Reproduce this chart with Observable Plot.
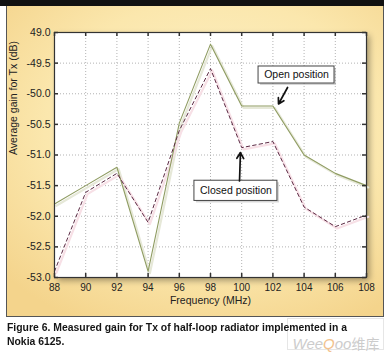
<!DOCTYPE html>
<html><head><meta charset="utf-8">
<script src="https://cdn.jsdelivr.net/npm/d3@7"></script>
<script src="https://cdn.jsdelivr.net/npm/@observablehq/plot@0.6"></script>
<style>
body{margin:0;background:#fff;font-family:"Liberation Sans",Arial,sans-serif;}
#wrap{position:relative;width:391px;height:355px;overflow:hidden;}
#bar{position:absolute;left:0;top:0;width:384px;height:6px;background:#111;}
#panel{position:absolute;left:6px;top:6px;width:376px;height:310px;border:1px solid #555;border-top:none;
 background:radial-gradient(ellipse 75% 70% at 55% 40%, #fdf2cc 0%, #fbe7ad 60%, #f4d48c 100%);}
#chart{position:absolute;left:0;top:0;}
#caption{position:absolute;left:7px;top:321px;font-weight:bold;font-size:11px;line-height:13.5px;color:#151515;white-space:nowrap;transform-origin:0 0;}
#wmbox{position:absolute;left:287px;top:318px;width:97px;height:32px;border:1px solid #e6e6e6;box-sizing:border-box;}
#wm{position:absolute;left:290px;top:337px;width:92px;font-size:15px;color:#cccccc;font-style:italic;line-height:13px;text-align:center;white-space:nowrap;}
#wm .o{color:#f2c28e;}
#wm .cn{font-style:normal;font-family:"Noto Sans CJK SC",sans-serif;font-size:14px;}
</style></head>
<body>
<div id="wrap">
  <div id="bar"></div>
  <div id="panel"></div>
  <div id="chart"></div>
  <div id="wmbox"></div>
  <div id="wm">Wee<span class="o">Q</span>oo<span class="cn">维库</span></div>
  <div id="caption"><span id="l1">Figure 6. Measured gain for Tx of half-loop radiator implemented in a</span><br>Nokia 6125.</div>
</div>
<script>
// ---- data ----
const freq = [88, 90, 92, 94, 96, 98, 100, 102, 104, 106, 108];
const openPos = [-51.8, -51.5, -51.2, -52.9, -50.48, -49.19, -50.2, -50.2, -51.0, -51.3, -51.5];
const closedPos = [-52.9, -51.61, -51.3, -52.1, -50.6, -49.59, -50.88, -50.78, -51.85, -52.17, -51.98];
const xTicks = [88, 90, 92, 94, 96, 98, 100, 102, 104, 106, 108];
const yTicks = [-53, -52.5, -52, -51.5, -51, -50.5, -50, -49.5, -49];
const yTickLabels = ["-53.0", "-52.5", "-52.0", "-51.5", "-51.0", "-50.5", "-50.0", "-49.5", "49.0"];
const xLabel = "Frequency (MHz)";
const yLabel = "Average gain for Tx (dB)";
// annotations (data units)
const noteText = ["Open position", "Closed position"];
const noteX1 = [101.08, 96.97];
const noteX2 = [105.95, 102.29];
const noteY1 = [-49.555, -51.42];
const noteY2 = [-49.833, -51.75];
const arrowX1 = [102.94, 99.86];
const arrowY1 = [-49.898, -51.424];
const arrowX2 = [102.36, 99.92];
const arrowY2 = [-50.167, -50.96];

const openData = freq.map((f, i) => ({f, v: openPos[i]}));
const closedData = freq.map((f, i) => ({f, v: closedPos[i]}));
const notes = noteText.map((t, i) => ({t, x1: noteX1[i], x2: noteX2[i], y1: noteY1[i], y2: noteY2[i]}));
const arrows = arrowX1.map((_, i) => ({x1: arrowX1[i], y1: arrowY1[i], x2: arrowX2[i], y2: arrowY2[i]}));
const yLabelMap = new Map(yTicks.map((t, i) => [t, yTickLabels[i]]));
const font = '"Liberation Sans", Arial, sans-serif';

const chart = Plot.plot({
  width: 391, height: 318,
  marginLeft: 54, marginRight: 25, marginTop: 32, marginBottom: 41,
  style: {background: "transparent", fontFamily: font, color: "#222"},
  x: {domain: [88, 108]},
  y: {domain: [-53, -49]},
  marks: [
    Plot.frame({fill: "white"}),
    Plot.ruleX(xTicks, {x: d => d, stroke: "#aaa", strokeDasharray: "1,2", strokeWidth: 0.9}),
    Plot.ruleY(yTicks, {y: d => d, stroke: "#aaa", strokeDasharray: "1,2", strokeWidth: 0.9}),
    // soft shadows under the lines
    Plot.line(openData, {x: "f", y: "v", stroke: "#e6e8d8", strokeWidth: 2.2, dx: 1.8, dy: 1.8}),
    Plot.line(closedData, {x: "f", y: "v", stroke: "#f7e0e6", strokeWidth: 2.2, dx: 1.8, dy: 1.8}),
    Plot.line(openData, {x: "f", y: "v", stroke: "#8f9c62", strokeWidth: 1.1}),
    Plot.line(closedData, {x: "f", y: "v", stroke: "#5c2a44", strokeWidth: 1, strokeDasharray: "3.5,3"}),
    // inward ticks
    Plot.ruleX(xTicks, {x: d => d, stroke: "#333", strokeWidth: 1.5, insetTop: 241}),
    Plot.ruleX(xTicks, {x: d => d, stroke: "#333", strokeWidth: 1.5, insetBottom: 241}),
    Plot.ruleY(yTicks, {y: d => d, stroke: "#333", strokeWidth: 1.5, insetRight: 308}),
    Plot.ruleY(yTicks, {y: d => d, stroke: "#333", strokeWidth: 1.5, insetLeft: 308}),
    Plot.frame({stroke: "#333", strokeWidth: 1.2}),
    Plot.axisX({ticks: xTicks, tickSize: 0, tickPadding: 6, fontSize: 10, label: null, fill: "#222"}),
    Plot.axisY({ticks: yTicks, tickFormat: d => yLabelMap.get(d), tickSize: 0, tickPadding: 4, fontSize: 10.5, label: null, fill: "#222"}),
    Plot.text([xLabel], {frameAnchor: "bottom", dy: 26, text: d => d, fontSize: 10.5, fill: "#222"}),
    Plot.text([yLabel], {frameAnchor: "left", dx: -41, rotate: -90, text: d => d, fontSize: 10.5, fill: "#222"}),
    // annotation boxes
    Plot.rect(notes, {x1: "x1", x2: "x2", y1: "y1", y2: "y2", fill: "#777", fillOpacity: 0.3, dx: 2, dy: 2}),
    Plot.rect(notes, {x1: "x1", x2: "x2", y1: "y1", y2: "y2", fill: "white", stroke: "#444", strokeWidth: 1}),
    Plot.text(notes, {x: d => (d.x1 + d.x2) / 2, y: d => (d.y1 + d.y2) / 2, text: "t", fontSize: 10.5, fill: "#111"}),
    Plot.arrow(arrows, {x1: "x1", y1: "y1", x2: "x2", y2: "y2", stroke: "#111", strokeWidth: 1.7, headLength: 6, headAngle: 60})
  ]
});
document.getElementById("chart").appendChild(chart);
const frames = chart.querySelectorAll('[aria-label="frame"]');
if (frames.length) frames[0].style.filter = "drop-shadow(3px 3px 3px rgba(0,0,0,0.35))";
// fit caption width
const l1 = document.getElementById("l1");
const w = l1.getBoundingClientRect().width;
if (w > 0) document.getElementById("caption").style.transform = `scaleX(${340 / w})`;
</script>
</body></html>
